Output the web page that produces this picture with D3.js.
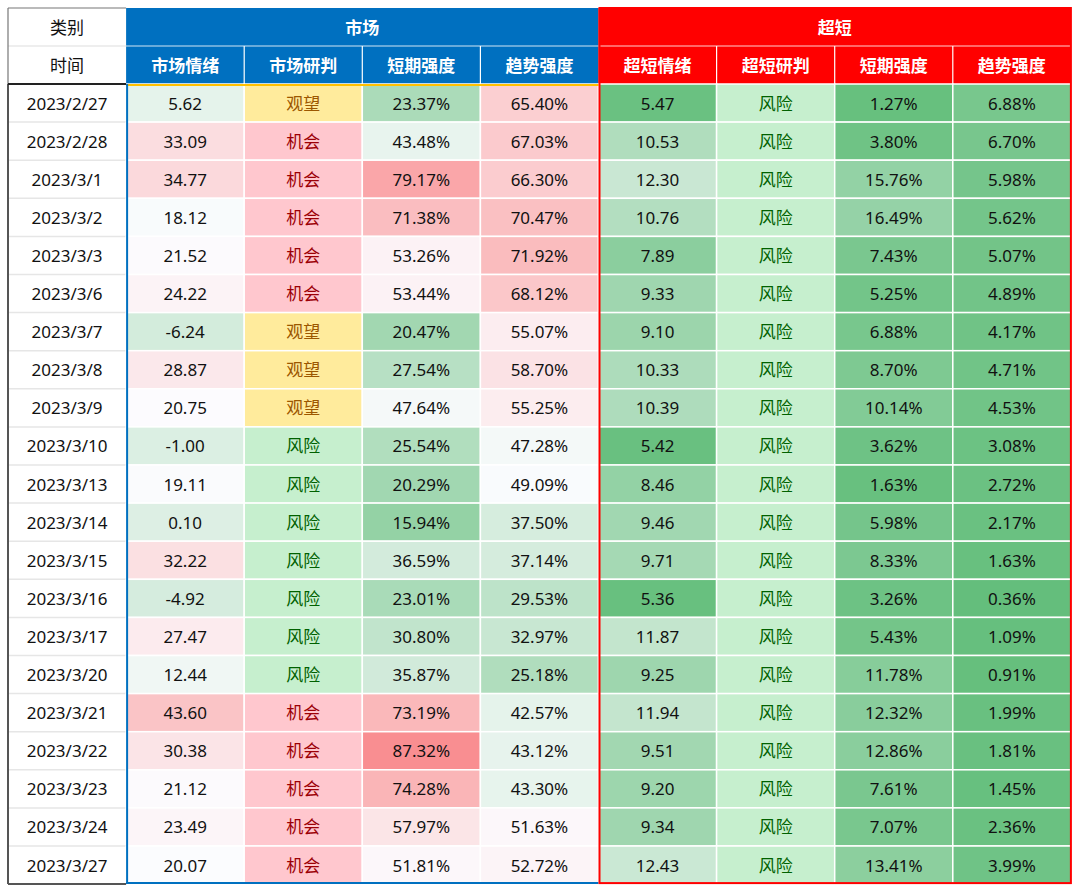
<!DOCTYPE html>
<html><head><meta charset="utf-8">
<script src="https://cdn.jsdelivr.net/npm/d3@7"></script>
<style>
html,body{margin:0;padding:0;background:#fff;}
svg{display:block;font-family:"Noto Sans","Noto Sans CJK SC",sans-serif;}
</style></head>
<body><svg id="chart" width="1080" height="892"></svg>
<script>
const groups = ["市场","超短"];
const subHeaders = ["市场情绪","市场研判","短期强度","趋势强度","超短情绪","超短研判","短期强度","趋势强度"];
const dates = ["2023/2/27","2023/2/28","2023/3/1","2023/3/2","2023/3/3","2023/3/6","2023/3/7","2023/3/8","2023/3/9","2023/3/10","2023/3/13","2023/3/14","2023/3/15","2023/3/16","2023/3/17","2023/3/20","2023/3/21","2023/3/22","2023/3/23","2023/3/24","2023/3/27"];
const marketMood = [5.62,33.09,34.77,18.12,21.52,24.22,-6.24,28.87,20.75,-1.00,19.11,0.10,32.22,-4.92,27.47,12.44,43.60,30.38,21.12,23.49,20.07];
const marketJudge = ["观望","机会","机会","机会","机会","机会","观望","观望","观望","风险","风险","风险","风险","风险","风险","风险","机会","机会","机会","机会","机会"];
const marketShort = [23.37,43.48,79.17,71.38,53.26,53.44,20.47,27.54,47.64,25.54,20.29,15.94,36.59,23.01,30.80,35.87,73.19,87.32,74.28,57.97,51.81];
const marketTrend = [65.40,67.03,66.30,70.47,71.92,68.12,55.07,58.70,55.25,47.28,49.09,37.50,37.14,29.53,32.97,25.18,42.57,43.12,43.30,51.63,52.72];
const ultraMood = [5.47,10.53,12.30,10.76,7.89,9.33,9.10,10.33,10.39,5.42,8.46,9.46,9.71,5.36,11.87,9.25,11.94,9.51,9.20,9.34,12.43];
const ultraJudge = ["风险","风险","风险","风险","风险","风险","风险","风险","风险","风险","风险","风险","风险","风险","风险","风险","风险","风险","风险","风险","风险"];
const ultraShort = [1.27,3.80,15.76,16.49,7.43,5.25,6.88,8.70,10.14,3.62,1.63,5.98,8.33,3.26,5.43,11.78,12.32,12.86,7.61,7.07,13.41];
const ultraTrend = [6.88,6.70,5.98,5.62,5.07,4.89,4.17,4.71,4.53,3.08,2.72,2.17,1.63,0.36,1.09,0.91,1.99,1.81,1.45,2.36,3.99];

const GREEN="#63BE7B", WHITE="#FCFCFF", RED="#F8696B";
const moodMarketScale = d3.scaleLinear().domain([-80,20.5,81]).range([GREEN,WHITE,RED]).clamp(true);
const moodUltraScale = d3.scaleLinear().domain([5,16,40]).range([GREEN,WHITE,RED]).clamp(true);
const strengthScale = d3.scaleLinear().domain([0,50,100]).range([GREEN,WHITE,RED]).clamp(true);
const judgeStyle = {"观望":{bg:"#FFEB9C",fg:"#9C5700"},"机会":{bg:"#FFC7CE",fg:"#9C0006"},"风险":{bg:"#C6EFCE",fg:"#006100"}};

const columns = [
  {vals:marketMood, type:"num", scale:moodMarketScale},
  {vals:marketJudge, type:"cat"},
  {vals:marketShort, type:"pct", scale:strengthScale},
  {vals:marketTrend, type:"pct", scale:strengthScale},
  {vals:ultraMood, type:"num", scale:moodUltraScale},
  {vals:ultraJudge, type:"cat"},
  {vals:ultraShort, type:"pct", scale:strengthScale},
  {vals:ultraTrend, type:"pct", scale:strengthScale}
];

(function(){
const svg = d3.select("#chart");
const L = 8, colW = 118.1, T = 8, hRow = 38, dataTop = 84, rowH = 38.1;
const x = d3.scaleBand().domain(d3.range(9)).range([L, L + 9*colW]).paddingInner(0);
const y = d3.scaleBand().domain(d3.range(dates.length)).range([dataTop, dataTop + dates.length*rowH]);
const B = dataTop + dates.length*rowH;
const R = L + 9*colW;
const fs = 17;

const grpColors = ["#0070C0","#FF0000"];
groups.forEach((g,i)=>{
  const x0 = x(1+i*4), w = 4*colW;
  svg.append("rect").attr("x",x0).attr("y",T).attr("width",w).attr("height",dataTop-T).attr("fill",grpColors[i]);
  svg.append("text").attr("x",x0+w/2).attr("y",T+hRow/2).attr("text-anchor","middle").attr("dominant-baseline","central")
    .attr("fill","#fff").attr("font-weight","bold").attr("font-size",fs).text(g);
  svg.append("line").attr("x1",x0).attr("x2",x0+w).attr("y1",T+hRow).attr("y2",T+hRow)
    .attr("stroke","#fff").attr("stroke-opacity",0.55).attr("stroke-width",1.5);
});
subHeaders.forEach((h,i)=>{
  const cx = x(i+1)+colW/2;
  svg.append("text").attr("x",cx).attr("y",T+hRow+hRow/2).attr("text-anchor","middle").attr("dominant-baseline","central")
    .attr("fill","#fff").attr("font-weight","bold").attr("font-size",fs).text(h);
  if(i%4!==0){
    svg.append("line").attr("x1",x(i+1)).attr("x2",x(i+1)).attr("y1",T+hRow).attr("y2",dataTop)
      .attr("stroke","#fff").attr("stroke-width",1.2);
  }
});

svg.append("text").attr("x",x(0)+colW/2).attr("y",T+hRow/2).attr("text-anchor","middle").attr("dominant-baseline","central")
  .attr("fill","#111").attr("font-size",fs).text("类别");
svg.append("text").attr("x",x(0)+colW/2).attr("y",T+hRow+hRow/2).attr("text-anchor","middle").attr("dominant-baseline","central")
  .attr("fill","#111").attr("font-size",fs).text("时间");
svg.append("line").attr("x1",L).attr("x2",x(1)).attr("y1",T+hRow).attr("y2",T+hRow).attr("stroke","#e8e8e8").attr("stroke-width",1.5);

dates.forEach((d,r)=>{
  const yy = y(r);
  svg.append("text").attr("x",x(0)+colW/2).attr("y",yy+rowH/2).attr("text-anchor","middle").attr("dominant-baseline","central")
    .attr("fill","#111").attr("font-size",fs).text(d);
  if(r>0) svg.append("line").attr("x1",L).attr("x2",x(1)).attr("y1",yy).attr("y2",yy).attr("stroke","#e6e6e6").attr("stroke-width",1.5);
  columns.forEach((c,ci)=>{
    const v = c.vals[r];
    let bg, fg="#111", txt;
    if(c.type==="cat"){ bg = judgeStyle[v].bg; fg = judgeStyle[v].fg; txt = v; }
    else { bg = c.scale(v); txt = c.type==="pct" ? v.toFixed(2)+"%" : v.toFixed(2); }
    const xx = x(ci+1);
    svg.append("rect").attr("x",xx).attr("y",yy).attr("width",colW).attr("height",rowH).attr("fill",bg)
      .attr("stroke","#fff").attr("stroke-width",1.5);
    svg.append("text").attr("x",xx+colW/2).attr("y",yy+rowH/2).attr("text-anchor","middle").attr("dominant-baseline","central")
      .attr("fill",fg).attr("font-size",fs).text(txt);
  });
});

svg.append("line").attr("x1",L).attr("x2",x(1)).attr("y1",T).attr("y2",T).attr("stroke","#777").attr("stroke-width",1.2);
svg.append("line").attr("x1",L).attr("x2",L).attr("y1",T).attr("y2",dataTop).attr("stroke","#777").attr("stroke-width",1.2);
svg.append("line").attr("x1",L).attr("x2",L).attr("y1",dataTop).attr("y2",B).attr("stroke","#555").attr("stroke-width",2);
svg.append("line").attr("x1",L).attr("x2",x(1)).attr("y1",B).attr("y2",B).attr("stroke","#555").attr("stroke-width",2);
svg.append("line").attr("x1",L).attr("x2",x(1)).attr("y1",dataTop).attr("y2",dataTop).attr("stroke","#222").attr("stroke-width",2);
svg.append("line").attr("x1",x(1)).attr("x2",x(5)).attr("y1",dataTop+1).attr("y2",dataTop+1).attr("stroke","#FFC000").attr("stroke-width",2);
svg.append("line").attr("x1",x(1)+1).attr("x2",x(1)+1).attr("y1",dataTop).attr("y2",B).attr("stroke","#0070C0").attr("stroke-width",2);
svg.append("line").attr("x1",x(1)).attr("x2",x(5)).attr("y1",B-1).attr("y2",B-1).attr("stroke","#0070C0").attr("stroke-width",2);
svg.append("rect").attr("x",x(5)+1).attr("y",T).attr("width",R-x(5)-1).attr("height",B-T-1)
  .attr("fill","none").attr("stroke","#FF0000").attr("stroke-width",2);
})();
</script></body></html>
